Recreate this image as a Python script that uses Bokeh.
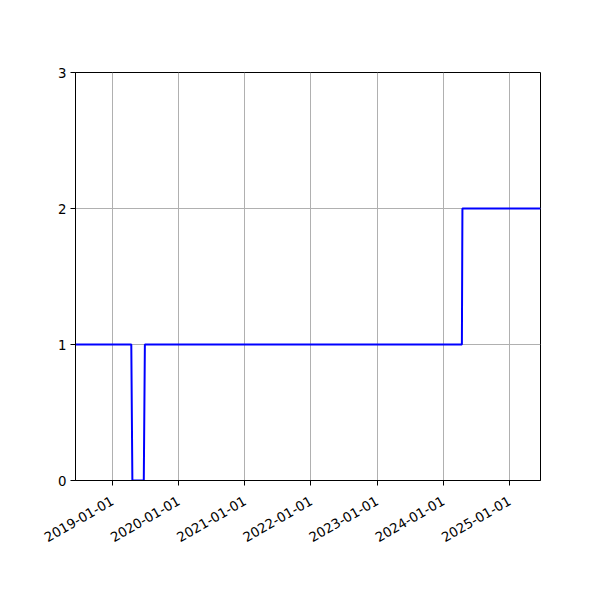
import math
import pandas as pd
from bokeh.plotting import figure
from bokeh.models import Range1d, FixedTicker, DatetimeTickFormatter, ColumnDataSource
from bokeh.embed import file_html
from bokeh.resources import INLINE

# Data: breakpoints of the series (date, value)
dates = ["2018-06-11", "2019-04-15", "2019-04-21", "2019-06-23", "2019-06-29",
         "2024-04-13", "2024-04-16", "2025-06-21"]
values = [1, 1, 0, 0, 1, 1, 2, 2]
x_start = "2018-06-11"
x_end = "2025-06-21"
tick_dates = ["2019-01-01", "2020-01-01", "2021-01-01", "2022-01-01",
              "2023-01-01", "2024-01-01", "2025-01-01"]
y_ticks = [0, 1, 2, 3]

xs = pd.to_datetime(dates)
src = ColumnDataSource(dict(x=xs, y=values))

p = figure(width=584, height=584, output_backend="svg", toolbar_location=None,
           x_axis_type="datetime",
           x_range=Range1d(pd.Timestamp(x_start), pd.Timestamp(x_end)),
           y_range=Range1d(0, 3),
           min_border_left=75, min_border_right=44, min_border_top=72, min_border_bottom=104)

p.line("x", "y", source=src, line_color="#0000ff", line_width=2)

tick_ms = [pd.Timestamp(t).value / 1e6 for t in tick_dates]
p.xaxis.ticker = FixedTicker(ticks=tick_ms)
fmt = "%Y-%m-%d"
p.xaxis.formatter = DatetimeTickFormatter(years=fmt, months=fmt, days=fmt, hours=fmt,
                                          minutes=fmt, seconds=fmt, milliseconds=fmt,
                                          microseconds=fmt, hourmin=fmt, minsec=fmt)
p.xaxis.major_label_orientation = math.pi / 6
p.yaxis.ticker = FixedTicker(ticks=y_ticks)

for ax in (p.xaxis[0], p.yaxis[0]):
    ax.axis_line_color = "black"
    ax.axis_line_width = 1
    ax.major_tick_line_color = "black"
    ax.major_tick_out = 5
    ax.major_tick_in = 0
    ax.minor_tick_line_color = None
    ax.major_label_text_font = "DejaVu Sans"
    ax.major_label_text_font_size = "13.33px"
    ax.major_label_text_color = "black"
    ax.major_label_standoff = 4
p.xaxis.major_label_standoff = 14

p.xgrid.ticker = FixedTicker(ticks=tick_ms)
p.ygrid.ticker = FixedTicker(ticks=y_ticks)
for g in (p.xgrid[0], p.ygrid[0]):
    g.grid_line_color = "#b0b0b0"
    g.grid_line_width = 1

p.outline_line_color = "black"
p.outline_line_width = 1
p.outline_line_alpha = 1
p.background_fill_color = "white"
p.border_fill_color = "white"

open("out.html", "w").write(file_html(p, INLINE))
